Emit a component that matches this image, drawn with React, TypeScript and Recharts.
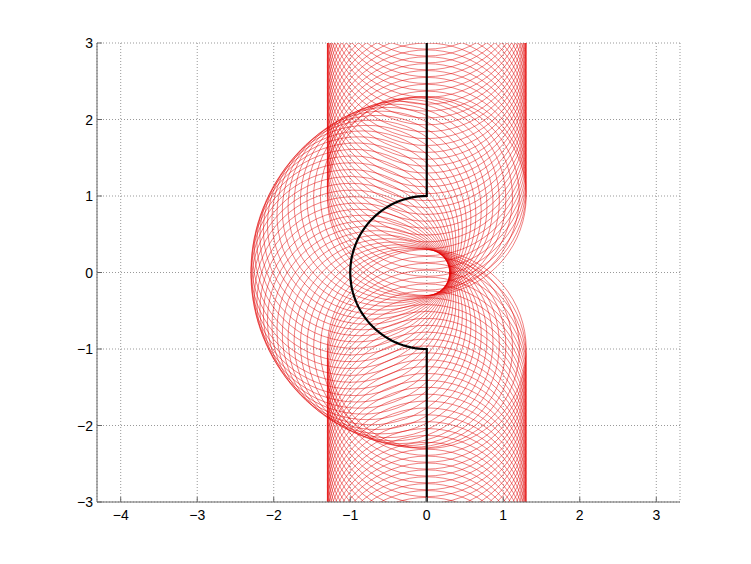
import React from 'react';
import { LineChart, Line, XAxis, YAxis, CartesianGrid } from 'recharts';

// axis setup (axis equal, box off)
const xTicks = [-4, -3, -2, -1, 0, 1, 2, 3];
const yTicks = [-3, -2, -1, 0, 1, 2, 3];
const xDomain: [number, number] = [-4.31, 3.31];
const yDomain: [number, number] = [-3, 3];

// centre curve: straight down x=0, half circle to the left, straight down again
const lineX = 0;
const topLine = [4.4, 1];
const bottomLine = [-1, -4.4];
const arcRadius = 1;
const arcAngles = [90, 270];

// swept circles
const circleRadius = 1.3;
const centreStep = 0.09;
const circleSegments = 72;

type Pt = { x: number; y: number | null };

const centres: { x: number; y: number }[] = [];
for (let y = topLine[0]; y > topLine[1]; y -= centreStep) centres.push({ x: lineX, y });
const arcSteps = Math.round((Math.PI * arcRadius) / centreStep);
for (let i = 0; i <= arcSteps; i++) {
  const a = ((arcAngles[0] + ((arcAngles[1] - arcAngles[0]) * i) / arcSteps) * Math.PI) / 180;
  centres.push({ x: arcRadius * Math.cos(a), y: arcRadius * Math.sin(a) });
}
for (let y = bottomLine[0] - centreStep; y >= bottomLine[1]; y -= centreStep) centres.push({ x: lineX, y });

const circleData: Pt[] = [];
centres.forEach((c) => {
  for (let k = 0; k <= circleSegments; k++) {
    const t = (2 * Math.PI * k) / circleSegments;
    circleData.push({ x: c.x + circleRadius * Math.cos(t), y: c.y + circleRadius * Math.sin(t) });
  }
  circleData.push({ x: c.x, y: null });
});

const pathData: Pt[] = [{ x: lineX, y: 3 }, { x: lineX, y: 1 }];
for (let i = 1; i < 60; i++) {
  const a = ((arcAngles[0] + ((arcAngles[1] - arcAngles[0]) * i) / 60) * Math.PI) / 180;
  pathData.push({ x: arcRadius * Math.cos(a), y: arcRadius * Math.sin(a) });
}
pathData.push({ x: lineX, y: -1 }, { x: lineX, y: -3 });

const fmt = (v: number) => (v < 0 ? `\u2212${Math.abs(v)}` : `${v}`);

const XTick = ({ x, y, payload }: any) => (
  <g>
    <line x1={x} y1={y} x2={x} y2={y - 5} stroke="#666" />
    <text x={x} y={y + 18} textAnchor="middle" fontSize={14} fill="#000">
      {fmt(payload.value)}
    </text>
  </g>
);

const YTick = ({ x, y, payload }: any) => (
  <g>
    <line x1={x} y1={y} x2={x + 5} y2={y} stroke="#666" />
    <text x={x - 4} y={y + 5} textAnchor="end" fontSize={14} fill="#000">
      {fmt(payload.value)}
    </text>
  </g>
);

export default function App() {
  return (
    <div style={{ position: 'absolute', left: 0, top: 0, width: 751, height: 564, background: '#fff', fontFamily: '"Liberation Sans", Arial, sans-serif' }}>
      <LineChart width={751} height={564} margin={{ top: 43, right: 71, bottom: 32, left: 57 }}>
        <CartesianGrid stroke="#999" strokeDasharray="1 2" />
        <XAxis
          type="number"
          dataKey="x"
          domain={xDomain}
          ticks={xTicks}
          allowDataOverflow
          height={30}
          tickSize={0}
          tickMargin={0}
          tickLine={false}
          axisLine={{ stroke: '#666' }}
          tick={<XTick />}
          interval={0}
        />
        <YAxis
          type="number"
          dataKey="y"
          domain={yDomain}
          ticks={yTicks}
          allowDataOverflow
          width={40}
          tickSize={0}
          tickMargin={0}
          tickLine={false}
          axisLine={{ stroke: '#666' }}
          tick={<YTick />}
          interval={0}
        />
        <Line
          data={circleData}
          dataKey="y"
          stroke="#e00000"
          strokeWidth={0.5}
          dot={false}
          activeDot={false}
          connectNulls={false}
          isAnimationActive={false}
        />
        <Line
          data={pathData}
          dataKey="y"
          stroke="#000"
          strokeWidth={2.2}
          dot={false}
          activeDot={false}
          isAnimationActive={false}
        />
      </LineChart>
    </div>
  );
}
